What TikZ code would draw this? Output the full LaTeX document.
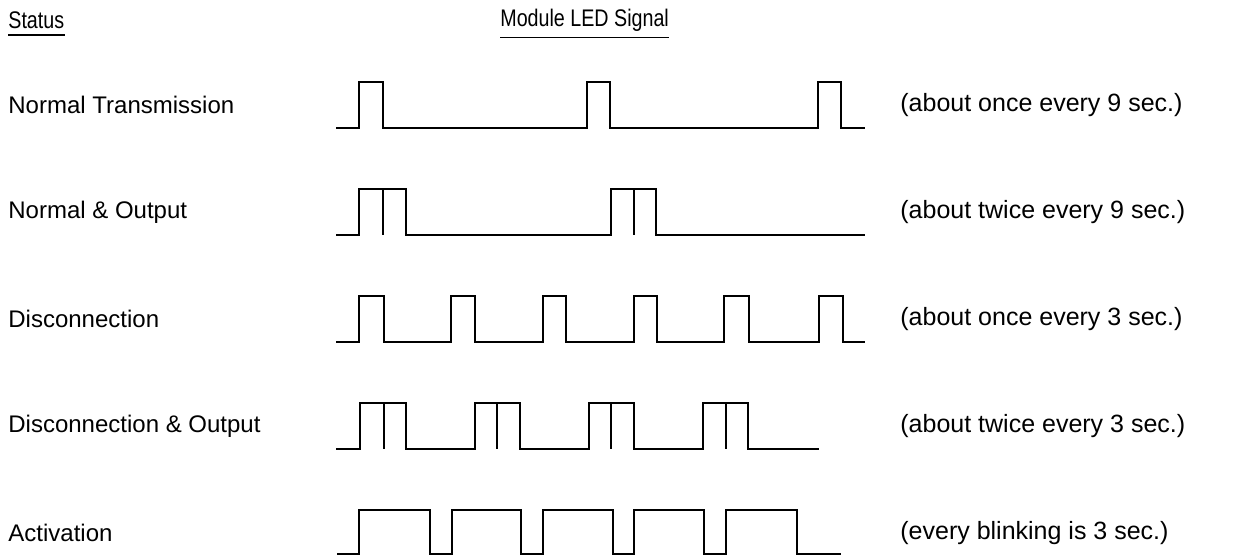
\documentclass[tikz,border=0pt]{standalone}
\usepackage{fontspec}
\setmainfont{Liberation Sans}
\usetikzlibrary{positioning}

\begin{document}
\begin{tikzpicture}[x=0.5pt, y=-0.5pt, font=\fontsize{12}{14}\selectfont,
  sig/.style={line width=1.3pt, line join=miter},
  lbl/.style={anchor=west, inner sep=0pt},
  note/.style={anchor=west, inner sep=0pt, font=\fontsize{12.5}{14}\selectfont}]
  \useasboundingbox (0,0) rectangle (1244,557);
  % headings
  \node[lbl] (st) at (8,20) {\scalebox{0.82}[1]{Status}};
  \node[lbl] (mod) at (500,20) {\scalebox{0.82}[1]{Module LED Signal}};
  \draw[line width=0.8pt] ([yshift=-3pt]st.south west) -- ([yshift=-3pt]st.south east);
  \draw[line width=0.8pt] ([yshift=-3pt]mod.south west) -- ([yshift=-3pt]mod.south east);
  % status names
  \node[lbl] (nt) at (8,105) {Normal Transmission};
  \node[lbl] (no) at (8,212) {Normal \& Output};
  \node[lbl] (dc) at (8,319) {Disconnection};
  \node[lbl] (dco) at (8,426) {Disconnection \& Output};
  \node[lbl] (act) at (8,533) {Activation};
  % timing notes
  \node[note] (ntx) at (900,105) {(about once every 9 sec.)};
  \node[note] (nox) at (900,212) {(about twice every 9 sec.)};
  \node[note] (dcx) at (900,319) {(about once every 3 sec.)};
  \node[note] (dcox) at (900,426) {(about twice every 3 sec.)};
  \node[note] (actx) at (900,533) {(every blinking is 3 sec.)};
  % normal transmission
  \draw[sig] (336,128) -| (359,82) -| (383,128) -| (587,82) -| (610,128)
    -| (818,82) -| (841,128) -- (865,128);
  % normal & output
  \draw[sig] (336,235) -| (359,189) -| (406,235) -| (611,189) -| (656,235) -- (865,235);
  \draw[sig] (383,189) -- (383,235);
  \draw[sig] (634,189) -- (634,235);
  % disconnection
  \draw[sig] (336,342) -| (359,296) -| (384,342) -| (451,296) -| (475,342)
    -| (543,296) -| (566,342) -| (634,296) -| (657,342) -| (724,296) -| (749,342)
    -| (819,296) -| (843,342) -- (865,342);
  % disconnection & output
  \draw[sig] (336,449) -| (360,403) -| (406,449) -| (475,403) -| (520,449)
    -| (589,403) -| (634,449) -| (703,403) -| (748,449) -- (819,449);
  \draw[sig] (384,403) -- (384,449);
  \draw[sig] (497,403) -- (497,449);
  \draw[sig] (611,403) -- (611,449);
  \draw[sig] (726,403) -- (726,449);
  % activation
  \draw[sig] (337,554) -| (359,510) -| (430,554) -| (452,510) -| (521,554)
    -| (543,510) -| (613,554) -| (634,510) -| (704,554) -| (726,510) -| (797,554) -- (841,554);
\end{tikzpicture}
\end{document}
